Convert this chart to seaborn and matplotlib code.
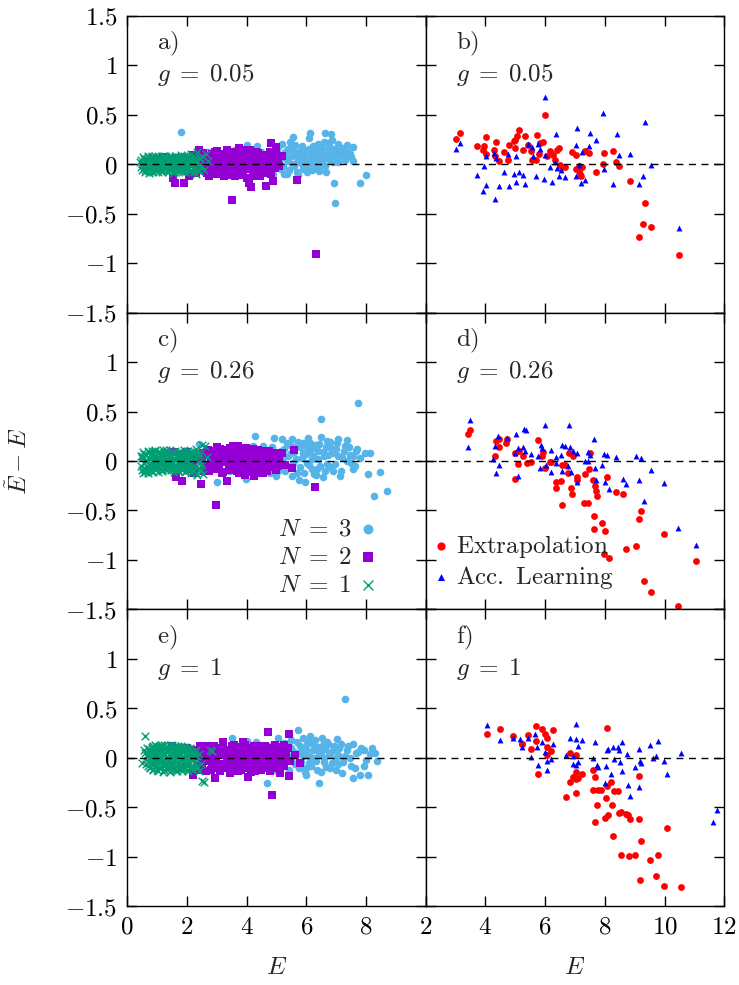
import matplotlib
matplotlib.use('Agg')
import matplotlib.pyplot as plt
import seaborn as sns

sns.set_style('ticks', {'axes.edgecolor': 'black', 'xtick.color': 'black', 'ytick.color': 'black',
                        'xtick.direction': 'in', 'ytick.direction': 'in'})
plt.rcParams['font.family'] = ['DejaVu Serif', 'DejaVu Sans']
plt.rcParams['mathtext.fontset'] = 'cm'
plt.rcParams['axes.linewidth'] = 1.0

# ---- left column: N = 1, 2, 3 (E, E~ - E) ----
a_n1 = [(0.42, 0.02), (0.48, -0.03), (0.55, 0.05), (0.6, -0.06), (0.65, 0.01), (0.7, 0.07), (0.72, -0.09), (0.78, 0.03),
        (0.82, -0.04), (0.85, 0.08), (0.9, -0.01), (0.95, 0.05), (0.98, -0.07), (1.02, 0.02), (1.06, -0.03), (1.1, 0.06),
        (1.14, -0.06), (1.18, 0.03), (1.22, -0.01), (1.26, 0.08), (1.3, -0.05), (1.34, 0.04), (1.38, -0.08), (1.42, 0.01),
        (1.46, 0.06), (1.5, -0.03), (1.55, 0.03), (1.6, -0.06), (1.64, 0.07), (1.68, -0.01), (1.72, 0.04), (1.76, -0.05),
        (1.8, 0.02), (1.85, -0.08), (1.9, 0.05), (1.95, -0.02), (2.0, 0.07), (2.05, -0.05), (2.1, 0.01), (2.15, 0.1),
        (2.2, -0.04), (2.25, 0.05), (2.3, -0.1), (2.35, 0.12), (2.42, -0.02), (2.5, 0.08), (2.58, -0.06), (2.65, 0.1),
        (2.72, 0.03), (1.25, 0.0), (0.95, -0.02), (1.55, -0.09), (1.8, 0.09), (1.1, 0.0),
        (0.5, 0.0), (0.55, -0.04), (0.6, 0.03), (0.64, -0.02), (0.68, 0.05), (0.74, -0.05), (0.76, 0.0), (0.8, 0.06),
        (0.84, -0.02), (0.88, 0.03), (0.92, -0.05), (0.96, 0.01), (1.0, 0.06), (1.04, -0.05), (1.08, 0.03), (1.12, -0.02),
        (1.16, 0.05), (1.2, -0.06), (1.24, 0.02), (1.28, -0.03), (1.32, 0.06), (1.36, 0.0), (1.4, -0.05), (1.44, 0.04),
        (1.48, -0.01), (1.52, 0.07), (1.56, -0.05), (1.6, 0.02), (1.66, -0.03), (1.7, 0.05), (1.74, 0.0), (1.78, -0.06),
        (1.82, 0.05), (1.88, 0.0), (1.92, -0.05), (1.98, 0.03), (2.02, -0.02), (2.08, 0.05), (2.12, -0.07), (2.18, 0.02),
        (2.22, 0.08), (2.28, -0.02), (2.32, 0.04), (2.38, -0.06), (2.45, 0.05), (0.7, 0.02), (1.0, -0.03), (1.3, 0.02),
        (1.6, -0.02), (1.9, 0.02)]
a_n1_core = [(0.45, 0.04), (0.5, -0.06), (0.53, 0.07), (0.57, 0.0), (0.6, -0.08), (0.63, 0.05), (0.67, -0.03), (0.7, 0.08),
             (0.73, -0.07), (0.77, 0.01), (0.8, -0.05), (0.83, 0.07), (0.87, -0.08), (0.9, 0.03), (0.93, 0.08), (0.97, -0.04),
             (1.0, 0.0), (1.03, -0.08), (1.07, 0.07), (1.1, -0.02), (1.13, 0.04), (1.17, -0.08), (1.2, 0.08), (1.23, -0.04),
             (1.27, 0.02), (1.3, 0.07), (1.33, -0.07), (1.37, 0.04), (1.4, -0.02), (1.43, 0.08), (1.47, -0.06), (1.5, 0.0),
             (1.53, 0.05), (1.57, -0.08), (1.6, 0.08), (1.63, -0.03), (1.67, 0.03), (1.7, -0.07), (1.73, 0.07), (1.77, 0.0),
             (1.8, -0.06), (1.83, 0.06), (1.87, -0.02), (1.9, 0.08), (1.93, -0.08), (1.97, 0.02), (2.0, -0.04), (2.03, 0.08),
             (2.07, -0.07), (2.1, 0.04), (2.13, -0.02), (2.17, 0.07), (2.2, -0.08), (2.23, 0.02), (2.27, 0.06), (2.3, -0.05),
             (2.35, 0.03), (2.4, -0.07), (2.45, 0.06), (2.5, -0.02)]
a_n2 = [(1.05, 0.05), (1.2, 0.07), (1.4, 0.03), (1.55, -0.14), (1.6, -0.19), (1.7, 0.06), (1.85, -0.06), (1.89, -0.19),
        (2.0, 0.05), (2.08, -0.12), (2.2, 0.09), (2.3, -0.09), (2.4, 0.14), (2.45, 0.02), (2.55, 0.11), (2.6, -0.07),
        (2.7, 0.04), (2.75, -0.12), (2.8, 0.08), (2.9, -0.03), (2.95, 0.12), (3.0, -0.1), (3.05, 0.05), (3.1, 0.0),
        (3.15, -0.06), (3.2, 0.1), (3.25, -0.12), (3.3, 0.03), (3.35, 0.14), (3.4, -0.04), (3.45, 0.07), (3.5, -0.36),
        (3.5, -0.09), (3.55, 0.12), (3.6, 0.0), (3.65, -0.07), (3.7, 0.09), (3.75, 0.16), (3.8, -0.11), (3.85, 0.04),
        (3.9, -0.02), (3.95, 0.1), (4.0, -0.14), (4.02, 0.06), (4.07, -0.19), (4.1, 0.14), (4.14, -0.23), (4.2, 0.01),
        (4.25, -0.08), (4.3, 0.08), (4.35, -0.03), (4.4, 0.11), (4.45, -0.12), (4.5, 0.05), (4.55, -0.05), (4.6, 0.02),
        (4.64, -0.22), (4.7, 0.09), (4.75, -0.06), (4.83, 0.21), (4.85, 0.07), (4.9, -0.17), (4.98, 0.17), (5.05, 0.04),
        (5.1, -0.02), (5.2, 0.08), (5.68, -0.16), (6.33, -0.91), (2.4, -0.05), (3.2, 0.02), (3.9, 0.05), (4.3, -0.1),
        (2.25, 0.03), (2.35, -0.06), (2.45, 0.08), (2.55, -0.02), (2.62, 0.05), (2.68, -0.09), (2.78, 0.0), (2.85, 0.1),
        (2.88, -0.06), (2.98, 0.04), (3.02, 0.13), (3.08, -0.04), (3.12, 0.07), (3.18, -0.09), (3.22, 0.04), (3.28, -0.02),
        (3.32, 0.09), (3.38, -0.11), (3.42, 0.02), (3.48, 0.11), (3.52, -0.05), (3.58, 0.06), (3.62, -0.12), (3.68, 0.03),
        (3.72, -0.03), (3.78, 0.12), (3.82, 0.0), (3.88, -0.08), (3.92, 0.14), (3.98, 0.02), (4.04, -0.05), (4.08, 0.09),
        (4.12, -0.02), (4.18, 0.07), (4.22, -0.12), (4.28, 0.03), (4.32, 0.12), (4.38, -0.06), (4.42, 0.05), (4.48, -0.02),
        (4.52, 0.09), (4.58, -0.09), (4.62, 0.06), (4.68, -0.03), (4.72, 0.02), (4.78, 0.12), (4.82, -0.1), (4.88, 0.03),
        (4.95, -0.04), (5.0, 0.1), (1.3, 0.0), (1.5, 0.05), (1.75, -0.04), (1.95, 0.02), (2.1, 0.0)]
a_n3 = [(1.8, 0.33), (2.0, 0.08), (2.3, 0.05), (2.6, -0.02), (2.9, 0.11), (3.2, 0.07), (3.3, -0.05), (3.6, 0.14),
        (3.8, 0.12), (4.0, 0.19), (4.1, 0.08), (4.2, -0.08), (4.35, 0.18), (4.5, 0.12), (4.7, 0.05), (4.8, -0.06),
        (4.95, 0.1), (5.0, 0.0), (5.05, 0.17), (5.15, -0.05), (5.2, 0.07), (5.3, 0.12), (5.35, -0.1), (5.4, 0.03),
        (5.5, 0.15), (5.55, 0.27), (5.6, -0.02), (5.65, 0.08), (5.7, -0.08), (5.75, 0.12), (5.8, 0.02), (5.85, 0.18),
        (5.9, -0.05), (5.95, 0.07), (6.0, 0.13), (6.05, -0.01), (6.1, 0.26), (6.13, 0.32), (6.15, 0.05), (6.2, -0.06),
        (6.25, 0.11), (6.3, 0.16), (6.35, 0.02), (6.4, 0.2), (6.45, -0.03), (6.5, 0.09), (6.55, 0.14), (6.6, 0.22),
        (6.64, 0.31), (6.67, -0.08), (6.7, 0.06), (6.75, 0.18), (6.8, 0.1), (6.82, 0.3), (6.85, 0.24), (6.9, 0.02),
        (6.94, -0.19), (6.97, -0.39), (7.0, 0.14), (7.05, 0.2), (7.1, 0.08), (7.2, 0.16), (7.3, 0.04), (7.4, 0.12),
        (7.46, 0.1), (7.55, 0.03), (7.57, 0.17), (7.8, -0.19), (8.0, -0.11), (5.25, -0.1), (4.6, 0.0), (5.45, 0.22),
        (4.85, 0.05), (4.9, -0.1), (5.02, 0.12), (5.1, 0.04), (5.18, 0.2), (5.22, -0.02), (5.28, 0.06), (5.38, 0.15),
        (5.42, -0.06), (5.48, 0.08), (5.52, 0.0), (5.58, 0.12), (5.62, 0.19), (5.68, 0.02), (5.72, -0.11), (5.78, 0.07),
        (5.82, 0.14), (5.88, -0.02), (5.92, 0.1), (5.98, 0.04), (6.02, -0.08), (6.08, 0.15), (6.12, 0.0), (6.18, 0.09),
        (6.22, 0.18), (6.28, -0.03), (6.32, 0.06), (6.38, 0.12), (6.42, -0.07), (6.48, 0.17), (6.52, 0.03), (6.58, 0.1),
        (6.62, -0.02), (6.68, 0.13), (6.72, 0.21), (6.78, 0.04), (6.88, 0.15), (6.92, 0.08), (7.08, 0.02), (7.15, 0.13),
        (7.25, 0.1), (7.35, 0.19), (7.5, 0.07), (4.3, 0.1), (4.45, -0.02), (3.9, 0.05), (3.4, 0.1), (2.7, 0.12)]

c_n1 = [(0.45, -0.05), (0.5, 0.03), (0.52, -0.12), (0.58, 0.07), (0.62, -0.08), (0.68, 0.01), (0.72, 0.09), (0.76, -0.04),
        (0.8, 0.05), (0.85, -0.1), (0.9, 0.02), (0.94, 0.1), (0.98, -0.06), (1.02, 0.04), (1.07, -0.02), (1.12, 0.08),
        (1.16, -0.09), (1.2, 0.03), (1.25, -0.04), (1.3, 0.11), (1.34, 0.0), (1.38, -0.07), (1.42, 0.06), (1.47, -0.03),
        (1.52, 0.09), (1.57, -0.08), (1.6, 0.02), (1.65, -0.05), (1.7, 0.07), (1.75, -0.02), (1.8, 0.04), (1.85, -0.09),
        (1.9, 0.06), (1.95, -0.04), (2.0, 0.1), (2.05, -0.07), (2.1, 0.03), (2.15, -0.12), (2.2, 0.07), (2.25, -0.1),
        (2.3, 0.12), (2.35, -0.14), (2.4, 0.05), (2.45, -0.08), (2.5, 0.16), (2.55, -0.13), (2.61, 0.15), (2.66, 0.04),
        (1.0, 0.0), (1.4, 0.01), (1.7, -0.01), (0.7, -0.12),
        (0.5, 0.05), (0.55, -0.08), (0.6, 0.0), (0.64, 0.06), (0.68, -0.06), (0.74, 0.03), (0.78, -0.09), (0.82, 0.08),
        (0.86, 0.0), (0.9, -0.06), (0.94, 0.05), (0.98, -0.02), (1.02, 0.09), (1.06, -0.07), (1.1, 0.02), (1.14, 0.07),
        (1.18, -0.04), (1.22, 0.05), (1.26, -0.08), (1.3, 0.01), (1.34, 0.08), (1.38, -0.03), (1.42, 0.0), (1.46, -0.09),
        (1.5, 0.05), (1.54, -0.02), (1.58, 0.08), (1.62, -0.06), (1.66, 0.04), (1.7, -0.09), (1.74, 0.09), (1.78, -0.04),
        (1.82, 0.02), (1.86, 0.08), (1.9, -0.07), (1.94, 0.01), (1.98, -0.1), (2.02, 0.05), (2.08, -0.03), (2.12, 0.09),
        (2.18, -0.06), (2.24, 0.02), (2.3, -0.12), (2.36, 0.08), (2.42, -0.02), (2.48, -0.1), (0.8, -0.02), (1.2, 0.0),
        (1.55, 0.02), (1.85, 0.0)]
c_n1_core = [(0.45, 0.05), (0.5, -0.09), (0.53, 0.09), (0.57, -0.02), (0.6, -0.11), (0.63, 0.06), (0.67, -0.05), (0.7, 0.1),
             (0.73, -0.09), (0.77, 0.02), (0.8, -0.06), (0.83, 0.1), (0.87, -0.11), (0.9, 0.04), (0.93, 0.11), (0.97, -0.05),
             (1.0, 0.0), (1.03, -0.11), (1.07, 0.09), (1.1, -0.03), (1.13, 0.05), (1.17, -0.1), (1.2, 0.11), (1.23, -0.06),
             (1.27, 0.03), (1.3, 0.09), (1.33, -0.09), (1.37, 0.05), (1.4, -0.02), (1.43, 0.11), (1.47, -0.08), (1.5, 0.0),
             (1.53, 0.07), (1.57, -0.11), (1.6, 0.1), (1.63, -0.04), (1.67, 0.04), (1.7, -0.1), (1.73, 0.09), (1.77, 0.0),
             (1.8, -0.08), (1.83, 0.08), (1.87, -0.03), (1.9, 0.11), (1.93, -0.11), (1.97, 0.02), (2.0, -0.05), (2.03, 0.1),
             (2.07, -0.09), (2.1, 0.05), (2.13, -0.02), (2.17, 0.09), (2.2, -0.1), (2.23, 0.02), (2.27, 0.08), (2.3, -0.06),
             (2.35, 0.04), (2.4, -0.09), (2.45, 0.07), (2.5, -0.03)]
c_n2 = [(1.57, 0.09), (1.64, -0.16), (1.75, 0.04), (1.83, -0.2), (1.97, 0.09), (2.05, -0.08), (2.15, 0.05), (2.25, -0.12),
        (2.35, 0.02), (2.47, -0.23), (2.55, 0.08), (2.6, -0.05), (2.7, 0.11), (2.75, -0.1), (2.8, 0.03), (2.9, -0.02),
        (2.97, -0.44), (3.0, 0.09), (3.05, -0.08), (3.1, 0.12), (3.15, 0.0), (3.2, -0.11), (3.25, 0.06), (3.33, -0.2),
        (3.35, 0.1), (3.4, -0.04), (3.45, 0.13), (3.5, 0.02), (3.56, 0.15), (3.6, -0.08), (3.65, 0.07), (3.72, 0.15),
        (3.75, -0.12), (3.8, 0.04), (3.85, -0.02), (3.9, 0.1), (3.95, -0.14), (4.0, 0.06), (4.05, -0.06), (4.1, 0.12),
        (4.15, -0.1), (4.2, 0.02), (4.25, -0.15), (4.3, 0.08), (4.35, -0.03), (4.4, 0.11), (4.45, -0.08), (4.5, 0.04),
        (4.55, -0.12), (4.6, 0.07), (4.65, -0.02), (4.75, 0.1), (4.8, -0.06), (4.9, 0.05), (5.0, -0.09), (5.1, 0.03),
        (5.2, 0.08), (5.3, -0.04), (5.51, -0.07), (5.6, 0.11), (6.29, -0.26), (2.4, 0.06), (3.0, -0.03), (3.6, 0.01),
        (4.2, -0.05), (3.3, 0.04),
        (2.5, 0.02), (2.58, -0.1), (2.65, 0.06), (2.72, -0.04), (2.82, 0.1), (2.88, -0.08), (2.95, 0.01), (3.02, 0.14),
        (3.08, -0.05), (3.12, 0.05), (3.18, -0.12), (3.22, 0.11), (3.28, -0.01), (3.38, 0.07), (3.42, -0.09), (3.48, 0.04),
        (3.52, 0.13), (3.58, -0.03), (3.62, 0.09), (3.68, -0.1), (3.7, 0.01), (3.78, 0.12), (3.82, -0.06), (3.88, 0.06),
        (3.92, -0.02), (3.98, 0.13), (4.02, -0.11), (4.08, 0.03), (4.12, 0.09), (4.18, -0.05), (4.22, 0.12), (4.28, -0.09),
        (4.32, 0.02), (4.38, 0.07), (4.42, -0.12), (4.48, 0.0), (4.52, 0.1), (4.58, -0.06), (4.62, 0.03), (4.7, -0.1),
        (4.78, 0.05), (4.85, -0.02), (4.95, 0.08), (5.05, -0.05), (2.0, 0.0), (2.2, -0.04), (1.8, 0.05)]
c_n3 = [(2.42, 0.17), (2.6, -0.03), (2.8, 0.05), (3.0, -0.21), (3.2, 0.08), (3.4, -0.1), (3.6, 0.12), (3.75, 0.02),
        (3.98, -0.18), (4.1, 0.1), (4.28, 0.25), (4.4, -0.07), (4.55, 0.15), (4.7, 0.04), (4.8, -0.12), (4.92, 0.23),
        (5.0, 0.08), (5.1, -0.05), (5.2, 0.22), (5.25, 0.12), (5.3, -0.1), (5.4, 0.05), (5.45, 0.16), (5.51, 0.22),
        (5.55, -0.02), (5.6, 0.09), (5.7, -0.12), (5.75, -0.19), (5.8, 0.14), (5.85, 0.03), (5.9, 0.18), (5.95, -0.21),
        (6.0, 0.07), (6.06, 0.23), (6.1, -0.04), (6.15, 0.12), (6.2, 0.02), (6.3, 0.16), (6.35, -0.08), (6.4, 0.1),
        (6.49, 0.42), (6.51, 0.24), (6.57, -0.16), (6.6, 0.05), (6.65, 0.14), (6.7, -0.03), (6.8, 0.19), (6.85, 0.08),
        (6.9, -0.1), (7.0, 0.12), (7.07, 0.22), (7.12, -0.15), (7.2, 0.04), (7.3, 0.15), (7.35, 0.21), (7.45, 0.06),
        (7.57, -0.08), (7.65, 0.1), (7.75, 0.59), (7.8, 0.03), (7.98, 0.08), (8.07, -0.13), (8.15, 0.08), (8.26, -0.35),
        (8.46, -0.11), (8.72, -0.3), (5.0, -0.15), (6.25, -0.13), (4.5, 0.0), (7.5, -0.02),
        (4.6, 0.1), (4.75, -0.04), (4.85, 0.14), (4.98, 0.0), (5.05, -0.1), (5.15, 0.1), (5.22, 0.03), (5.35, 0.18),
        (5.38, -0.05), (5.48, 0.08), (5.52, -0.15), (5.58, 0.14), (5.65, 0.02), (5.72, 0.19), (5.78, -0.06), (5.88, 0.08),
        (5.92, -0.12), (5.98, 0.15), (6.03, -0.02), (6.08, 0.1), (6.12, 0.18), (6.18, -0.08), (6.22, 0.05), (6.28, 0.13),
        (6.32, -0.14), (6.38, 0.02), (6.42, 0.17), (6.46, -0.05), (6.55, 0.09), (6.62, -0.1), (6.68, 0.2), (6.72, 0.06),
        (6.78, -0.06), (6.82, 0.13), (6.95, -0.03), (7.02, 0.18), (7.08, 0.05), (7.18, -0.1), (7.25, 0.1), (7.38, 0.0),
        (7.42, 0.14), (7.55, 0.05), (7.62, -0.05), (7.7, 0.12), (3.5, 0.05), (3.9, -0.08), (4.2, 0.15)]

e_n1 = [(0.5, -0.05), (0.56, 0.08), (0.61, 0.22), (0.65, 0.02), (0.7, -0.08), (0.74, 0.06), (0.78, -0.02), (0.82, 0.1),
        (0.86, -0.11), (0.9, 0.03), (0.94, -0.05), (0.98, 0.12), (1.02, 0.0), (1.06, -0.09), (1.1, 0.07), (1.14, -0.03),
        (1.18, 0.11), (1.22, -0.12), (1.26, 0.04), (1.3, -0.06), (1.34, 0.09), (1.38, -0.01), (1.42, 0.13), (1.46, -0.1),
        (1.5, 0.05), (1.55, -0.04), (1.6, 0.1), (1.64, -0.12), (1.68, 0.02), (1.72, 0.08), (1.76, -0.07), (1.8, 0.04),
        (1.85, -0.1), (1.9, 0.09), (1.95, -0.02), (2.0, 0.06), (2.05, -0.08), (2.1, 0.03), (2.15, -0.11), (2.2, 0.05),
        (2.28, -0.06), (2.35, 0.02), (2.42, -0.13), (2.51, -0.23), (2.56, -0.24), (2.79, 0.08), (2.84, 0.07), (1.0, 0.04),
        (1.3, 0.0), (1.6, -0.02), (0.8, 0.0), (1.15, 0.13),
        (0.6, 0.05), (0.64, -0.06), (0.68, 0.1), (0.72, 0.0), (0.76, -0.1), (0.8, 0.07), (0.84, -0.04), (0.88, 0.12),
        (0.92, -0.08), (0.96, 0.04), (1.0, -0.12), (1.04, 0.09), (1.08, -0.02), (1.12, 0.13), (1.16, -0.07), (1.2, 0.05),
        (1.24, -0.12), (1.28, 0.1), (1.32, -0.04), (1.36, 0.06), (1.4, -0.1), (1.44, 0.02), (1.48, 0.12), (1.52, -0.07),
        (1.56, 0.07), (1.6, -0.12), (1.64, 0.05), (1.68, -0.04), (1.72, 0.12), (1.76, -0.1), (1.8, 0.08), (1.84, -0.02),
        (1.88, 0.11), (1.92, -0.09), (1.96, 0.04), (2.0, -0.12), (2.04, 0.09), (2.08, -0.04), (2.12, 0.07), (2.18, -0.09),
        (2.22, 0.0), (2.28, 0.06), (2.34, -0.1), (2.4, 0.04), (2.46, -0.06), (0.9, 0.0), (1.2, -0.03), (1.5, 0.0),
        (1.75, 0.02), (2.0, 0.0)]
e_n1_core = [(0.7, 0.04), (0.72, -0.04), (0.75, 0.09), (0.78, -0.09), (0.8, 0.02), (0.83, 0.11), (0.85, -0.06), (0.88, -0.12),
             (0.9, 0.07), (0.93, -0.02), (0.95, 0.13), (0.98, -0.08), (1.0, 0.02), (1.03, -0.13), (1.05, 0.06), (1.08, 0.12),
             (1.1, -0.05), (1.13, 0.0), (1.15, -0.1), (1.18, 0.08), (1.2, -0.14), (1.23, 0.03), (1.25, 0.13), (1.28, -0.07),
             (1.3, 0.07), (1.33, -0.11), (1.35, 0.01), (1.38, 0.12), (1.4, -0.04), (1.43, -0.14), (1.45, 0.09), (1.48, -0.06),
             (1.5, 0.13), (1.53, 0.0), (1.55, -0.11), (1.58, 0.06), (1.6, 0.12), (1.63, -0.08), (1.65, 0.0), (1.68, -0.13),
             (1.7, 0.1), (1.73, -0.05), (1.75, 0.05), (1.78, -0.1), (1.8, 0.12), (1.83, 0.0), (1.85, -0.13), (1.88, 0.06),
             (1.9, -0.06), (1.93, 0.11), (1.95, -0.1), (1.98, 0.02), (2.0, 0.1), (2.03, -0.06), (2.05, -0.13), (2.08, 0.05),
             (2.1, 0.1), (2.13, -0.09), (2.15, 0.0), (2.18, 0.07), (2.2, -0.12), (2.23, 0.03), (2.26, -0.04), (2.3, 0.08),
             (2.33, -0.08)]
e_n2 = [(2.2, -0.17), (2.3, 0.05), (2.4, -0.08), (2.5, 0.1), (2.6, -0.03), (2.7, 0.07), (2.8, -0.12), (2.9, 0.02),
        (2.95, -0.2), (3.0, 0.1), (3.1, -0.06), (3.2, 0.16), (3.25, 0.04), (3.3, -0.1), (3.4, 0.08), (3.45, -0.15),
        (3.5, 0.0), (3.6, 0.11), (3.65, -0.08), (3.7, 0.05), (3.8, -0.12), (3.87, 0.16), (3.9, 0.03), (3.95, -0.05),
        (4.04, -0.19), (4.1, 0.09), (4.2, -0.02), (4.25, 0.12), (4.3, -0.09), (4.4, 0.06), (4.45, -0.04), (4.5, 0.1),
        (4.6, -0.1), (4.65, 0.03), (4.72, 0.26), (4.79, -0.13), (4.85, -0.38), (4.9, 0.07), (4.96, 0.13), (5.0, -0.06),
        (5.05, 0.02), (5.13, -0.15), (5.2, 0.08), (5.26, 0.13), (5.3, -0.03), (5.41, -0.18), (5.42, 0.24), (5.63, 0.03),
        (5.8, -0.05), (2.5, -0.12), (3.0, -0.1), (3.5, 0.12), (4.0, 0.07), (4.5, -0.12), (2.65, 0.12), (3.35, -0.02),
        (4.15, -0.14), (4.75, 0.0),
        (2.25, 0.08), (2.32, -0.12), (2.38, 0.02), (2.45, 0.12), (2.52, -0.05), (2.58, 0.05), (2.65, -0.13), (2.72, 0.1),
        (2.78, 0.0), (2.85, -0.08), (2.92, 0.12), (2.98, -0.02), (3.05, 0.06), (3.12, -0.13), (3.18, 0.03), (3.22, 0.12),
        (3.28, -0.06), (3.35, 0.08), (3.42, -0.1), (3.48, 0.04), (3.55, -0.03), (3.58, 0.13), (3.65, 0.0), (3.72, -0.13),
        (3.78, 0.09), (3.82, -0.05), (3.88, 0.05), (3.95, 0.13), (4.0, -0.1), (4.05, 0.0), (4.12, 0.1), (4.18, -0.07),
        (4.22, 0.04), (4.28, -0.13), (4.35, 0.12), (4.38, -0.02), (4.42, 0.08), (4.48, -0.08), (4.55, 0.03), (4.62, 0.12),
        (4.68, -0.05), (4.72, 0.06), (4.78, -0.1), (4.85, 0.1), (4.92, -0.02), (4.98, 0.06), (5.05, -0.1), (5.1, 0.11),
        (5.18, 0.0), (5.25, -0.08), (5.32, 0.05), (5.38, 0.1), (5.45, -0.03), (2.0, 0.1), (1.8, -0.1), (1.5, 0.12)]
e_n3 = [(2.73, 0.13), (3.0, -0.05), (3.3, 0.06), (3.51, 0.2), (3.7, -0.08), (3.9, 0.1), (4.1, 0.02), (4.33, 0.16),
        (4.5, -0.06), (4.68, -0.25), (4.8, 0.12), (4.95, 0.04), (5.07, 0.2), (5.2, -0.08), (5.3, 0.09), (5.4, 0.14),
        (5.5, -0.02), (5.6, 0.06), (5.72, 0.28), (5.75, -0.1), (5.8, 0.12), (5.9, 0.02), (5.95, -0.14), (6.0, 0.08),
        (6.05, 0.18), (6.1, -0.05), (6.19, 0.15), (6.25, 0.0), (6.3, 0.1), (6.35, -0.12), (6.44, -0.25), (6.5, 0.06),
        (6.55, 0.13), (6.6, -0.04), (6.69, 0.16), (6.75, 0.03), (6.8, -0.1), (6.9, 0.08), (7.02, 0.19), (7.05, -0.06),
        (7.1, 0.1), (7.2, -0.15), (7.29, 0.59), (7.3, 0.02), (7.4, 0.12), (7.5, -0.08), (7.58, -0.2), (7.65, 0.05),
        (7.8, -0.17), (7.85, 0.1), (7.92, 0.08), (8.0, -0.02), (8.08, -0.17), (8.2, 0.1), (8.3, 0.05), (8.36, -0.03),
        (5.0, -0.12), (6.0, -0.17), (7.0, 0.0), (5.5, 0.18),
        (5.05, 0.08), (5.15, -0.05), (5.25, 0.15), (5.35, 0.0), (5.42, -0.12), (5.5, 0.1), (5.55, 0.03), (5.62, -0.06),
        (5.68, 0.16), (5.75, 0.05), (5.82, -0.04), (5.88, 0.2), (5.92, 0.09), (5.98, -0.1), (6.02, 0.14), (6.08, 0.02),
        (6.12, 0.22), (6.15, -0.08), (6.22, 0.08), (6.28, 0.18), (6.32, -0.03), (6.38, 0.11), (6.42, 0.04), (6.48, -0.14),
        (6.52, 0.2), (6.58, 0.0), (6.62, 0.09), (6.66, -0.09), (6.72, 0.14), (6.78, 0.05), (6.85, -0.05), (6.92, 0.12),
        (6.98, -0.12), (7.08, 0.03), (7.15, 0.14), (7.22, -0.04), (7.35, 0.08), (7.45, 0.0), (7.55, 0.14), (7.62, -0.1),
        (7.72, 0.06), (7.95, -0.08), (8.12, 0.04), (4.4, 0.12), (4.6, 0.05), (4.0, 0.17)]

# ---- right column: Extrapolation vs Acc. Learning ----
b_ext = [(3.03, 0.25), (3.14, 0.32), (3.72, 0.18), (3.96, 0.18), (4.01, 0.27), (3.92, 0.14), (4.03, 0.1), (4.29, 0.14),
         (4.37, 0.22), (4.31, 0.08), (4.45, 0.03), (4.61, 0.12), (4.76, 0.04), (4.78, 0.19), (4.96, 0.23), (5.0, 0.16),
         (5.05, 0.28), (5.12, 0.35), (5.0, 0.24), (5.26, 0.14), (5.33, 0.28), (5.43, 0.19), (5.54, 0.13), (5.56, 0.04),
         (5.7, 0.04), (5.72, 0.29), (5.79, 0.1), (5.82, 0.21), (5.94, 0.22), (5.99, 0.5), (6.06, 0.08), (6.18, 0.13),
         (6.25, 0.09), (6.32, 0.04), (6.39, 0.14), (6.45, 0.16), (6.49, -0.01), (6.58, -0.03), (6.68, -0.03), (6.9, 0.12),
         (7.02, -0.05), (7.05, 0.09), (7.12, -0.02), (7.13, -0.07), (7.2, -0.12), (7.17, -0.1), (7.25, -0.03), (7.33, 0.13),
         (7.47, 0.11), (7.69, -0.08), (7.94, 0.0), (7.97, 0.11), (8.26, 0.13), (8.38, 0.02), (8.47, -0.02), (8.84, -0.17),
         (9.33, -0.39), (9.27, -0.6), (9.55, -0.64), (9.14, -0.74), (10.49, -0.92)]
b_acc = [(3.03, 0.15), (3.14, 0.21), (3.72, -0.11), (3.92, -0.27), (4.01, -0.21), (3.96, -0.02), (4.01, 0.08), (4.29, 0.11),
         (4.31, -0.35), (4.37, 0.06), (4.44, -0.22), (4.61, -0.08), (4.76, 0.1), (4.78, -0.22), (4.96, -0.1), (5.04, -0.18),
         (5.04, 0.08), (5.13, -0.08), (5.26, -0.11), (5.34, -0.2), (5.43, 0.2), (5.56, 0.17), (5.6, 0.08), (5.7, -0.12),
         (5.77, 0.2), (5.82, 0.15), (6.01, 0.68), (5.95, -0.15), (6.01, 0.09), (6.17, -0.03), (6.22, -0.18), (6.32, 0.02),
         (6.37, 0.3), (6.41, -0.04), (6.45, -0.12), (6.53, -0.06), (6.68, -0.13), (7.02, 0.19), (7.07, 0.37), (7.05, -0.12),
         (7.13, -0.01), (7.21, -0.19), (7.24, 0.12), (7.33, -0.16), (7.46, 0.18), (7.49, 0.31), (7.69, 0.24), (7.94, 0.52),
         (7.98, -0.05), (8.26, -0.2), (8.4, 0.3), (8.47, 0.09), (8.85, 0.1), (9.14, -0.2), (9.29, -0.12), (9.34, 0.43),
         (9.55, -0.01), (10.49, -0.65)]

d_ext = [(3.42, 0.27), (3.47, 0.31), (4.33, 0.05), (4.35, 0.2), (4.45, 0.14), (4.45, 0.22), (4.7, 0.18), (4.74, 0.22),
         (4.98, -0.18), (5.0, 0.08), (5.1, -0.03), (5.14, 0.1), (5.27, 0.05), (5.39, -0.02), (5.54, -0.01), (5.77, 0.21),
         (5.88, 0.05), (5.93, 0.09), (6.01, -0.07), (6.18, -0.01), (6.2, -0.01), (6.35, -0.21), (6.38, -0.27), (6.54, -0.2),
         (6.58, -0.04), (6.55, -0.44), (6.66, -0.04), (6.77, -0.12), (6.81, 0.08), (6.88, -0.27), (6.9, -0.33), (6.95, 0.05),
         (7.06, -0.19), (7.08, -0.16), (7.31, -0.42), (7.44, -0.42), (7.33, -0.13), (7.47, -0.08), (7.52, 0.08), (7.59, -0.19),
         (7.65, -0.56), (7.65, -0.69), (7.68, -0.25), (7.7, -0.3), (7.73, -0.35), (7.91, -0.63), (7.97, -0.94), (8.0, -0.71),
         (8.09, -0.16), (8.13, -0.98), (8.38, -0.31), (8.61, -0.33), (8.71, -0.89), (9.03, -0.86), (9.15, -0.59), (9.2, -0.51),
         (9.32, -1.21), (9.56, -1.32), (9.97, -0.74), (10.46, -1.47), (11.04, -1.01)]
d_acc = [(3.42, 0.14), (3.5, 0.41), (4.26, 0.02), (4.33, 0.15), (4.37, -0.12), (4.42, 0.25), (4.46, -0.04), (4.74, 0.23),
         (5.0, 0.08), (5.04, 0.27), (5.08, -0.15), (5.1, 0.13), (5.27, 0.14), (5.3, 0.32), (5.34, 0.1), (5.37, 0.31),
         (5.54, 0.07), (5.77, 0.05), (5.83, -0.07), (5.85, 0.16), (5.9, 0.13), (6.01, 0.36), (6.04, -0.04), (6.19, -0.11),
         (6.2, 0.11), (6.35, 0.04), (6.38, -0.02), (6.54, 0.06), (6.55, -0.1), (6.57, 0.16), (6.68, 0.15), (6.77, -0.05),
         (6.81, 0.36), (6.85, 0.14), (6.88, -0.11), (6.92, 0.1), (7.08, 0.08), (7.08, -0.21), (7.33, 0.0), (7.44, 0.09),
         (7.44, 0.0), (7.52, 0.06), (7.65, 0.22), (7.67, -0.07), (7.7, -0.19), (7.91, -0.04), (7.98, 0.07), (8.0, -0.21),
         (8.07, 0.06), (8.13, -0.28), (8.38, 0.04), (8.6, -0.18), (8.71, -0.23), (9.03, 0.05), (9.15, -0.19), (9.2, 0.03),
         (9.32, -0.4), (9.56, -0.09), (9.97, -0.22), (10.46, -0.68), (11.04, -0.85)]

f_ext = [(4.06, 0.24), (4.48, 0.29), (4.92, 0.22), (5.21, 0.14), (5.23, 0.14), (5.44, 0.23), (5.52, 0.09), (5.7, 0.17),
         (5.69, 0.32), (5.77, -0.16), (5.88, 0.29), (6.01, 0.24), (6.07, 0.2), (6.07, 0.11), (6.06, 0.03), (6.2, 0.07),
         (6.28, 0.28), (6.69, -0.4), (6.83, 0.05), (6.84, -0.24), (6.93, -0.19), (7.03, 0.03), (7.03, -0.36), (7.05, -0.14),
         (7.05, -0.21), (7.11, -0.2), (7.25, -0.16), (7.59, -0.33), (7.62, -0.12), (7.68, -0.19), (7.68, -0.65), (7.73, -0.48),
         (7.77, -0.33), (7.86, -0.33), (8.0, -0.61), (8.05, -0.41), (8.07, 0.3), (8.07, -0.29), (8.12, -0.58), (8.2, -0.24),
         (8.24, -0.48), (8.27, -0.79), (8.3, -0.34), (8.43, -0.34), (8.46, -0.56), (8.54, -0.55), (8.55, -0.98), (8.72, -0.57),
         (8.79, -0.58), (8.82, -0.99), (8.83, -0.62), (9.02, -0.98), (9.14, -0.18), (9.14, -0.62), (9.17, -1.24), (9.21, -0.84),
         (9.5, -1.03), (9.73, -1.19), (9.77, -0.98), (9.97, -1.3), (10.08, -0.71), (10.55, -1.31)]
f_acc = [(4.06, 0.33), (4.48, 0.18), (4.92, 0.2), (5.17, 0.19), (5.23, 0.11), (5.44, 0.2), (5.52, 0.01), (5.66, 0.24),
         (5.72, 0.11), (5.77, -0.07), (5.88, 0.16), (6.01, 0.06), (6.05, -0.12), (6.07, -0.03), (6.2, -0.01), (6.28, 0.14),
         (6.69, 0.03), (6.83, 0.2), (6.92, 0.02), (6.93, -0.06), (7.02, 0.34), (7.03, 0.19), (7.05, -0.07), (7.09, -0.04),
         (7.11, 0.12), (7.25, 0.18), (7.62, 0.0), (7.68, 0.16), (7.73, -0.07), (7.77, -0.09), (8.0, -0.25), (8.05, -0.08),
         (8.07, 0.08), (8.12, 0.09), (8.22, -0.16), (8.27, 0.11), (8.32, -0.01), (8.43, 0.11), (8.46, 0.08), (8.5, -0.04),
         (8.56, -0.13), (8.57, 0.16), (8.73, 0.04), (8.79, -0.27), (8.83, -0.39), (9.02, -0.09), (9.13, -0.3), (9.15, 0.09),
         (9.17, -0.03), (9.21, -0.05), (9.5, 0.13), (9.63, 0.0), (9.73, 0.02), (9.77, 0.17), (9.97, -0.03), (10.08, -0.16),
         (10.55, 0.05), (11.64, -0.65), (11.75, -0.53)]

letters_left = ['a)', 'c)', 'e)']
letters_right = ['b)', 'd)', 'f)']
g_labels = ['0.05', '0.26', '1']
left_sets = [(a_n1 + a_n1_core, a_n2, a_n3), (c_n1 + c_n1_core, c_n2, c_n3), (e_n1 + e_n1_core, e_n2, e_n3)]
right_sets = [(b_ext, b_acc), (d_ext, d_acc), (f_ext, f_acc)]

FS = 18


def xs(pts):
    return [p[0] for p in pts]


def ys(pts):
    return [p[1] for p in pts]


fig, axes = plt.subplots(3, 2, figsize=(7.39, 9.85), dpi=100)
fig.subplots_adjust(left=0.172, right=0.98, top=0.984, bottom=0.08, hspace=0, wspace=0)

yt = [-1.5, -1, -0.5, 0, 0.5, 1, 1.5]
yt_lab = [r'$-1.5$', r'$-1$', r'$-0.5$', r'$0$', r'$0.5$', r'$1$', r'$1.5$']

for i in range(3):
    n1, n2, n3 = left_sets[i]
    ax = axes[i, 0]
    sns.scatterplot(x=xs(n3), y=ys(n3), ax=ax, color='#56b4e9', marker='o', s=30, linewidth=0, label=r'$N\;=\;3$')
    sns.scatterplot(x=xs(n2), y=ys(n2), ax=ax, color='#9400d3', marker='s', s=32, linewidth=0, label=r'$N\;=\;2$')
    sns.scatterplot(x=xs(n1), y=ys(n1), ax=ax, color='#009e73', marker='x', s=30, linewidth=1.0, label=r'$N\;=\;1$')
    ax.set_xlim(0, 10)

    ext, acc = right_sets[i]
    axr = axes[i, 1]
    sns.scatterplot(x=xs(ext), y=ys(ext), ax=axr, color='#ff0000', marker='o', s=24, linewidth=0,
                    label=r'$\mathrm{Extrapolation}$')
    sns.scatterplot(x=xs(acc), y=ys(acc), ax=axr, color='#0000ff', marker='^', s=18, linewidth=0,
                    label=r'$\mathrm{Acc.\ Learning}$')
    axr.set_xlim(2, 12)

    for j, a in enumerate((ax, axr)):
        a.set_ylim(-1.5, 1.5)
        a.axhline(0, color='black', lw=1.0, ls=(0, (5, 4)), zorder=5)
        a.tick_params(direction='in', length=7, width=1, top=True, right=True, labelsize=FS, pad=7)
        a.set_yticks(yt)
        if j == 0:
            labs = list(yt_lab)
            if i > 0:
                labs[-1] = ''
            a.set_yticklabels(labs)
        else:
            a.set_yticklabels([''] * len(yt))
        a.set_xlabel('')
        a.set_ylabel('')
        letter = letters_left[i] if j == 0 else letters_right[i]
        a.text(0.1, 0.905, r'$\mathrm{' + letter + '}$', transform=a.transAxes, fontsize=FS, va='center')
        a.text(0.1, 0.80, r'$g\;=\;' + g_labels[i] + '$', transform=a.transAxes, fontsize=FS, va='center')
        if a.get_legend() is not None:
            a.get_legend().remove()

    ax.set_xticks([0, 2, 4, 6, 8, 10])
    axr.set_xticks([2, 4, 6, 8, 10, 12])
    if i == 2:
        ax.set_xticklabels([r'$0$', r'$2$', r'$4$', r'$6$', r'$8$', ''])
        axr.set_xticklabels([r'$2$', r'$4$', r'$6$', r'$8$', r'$10$', r'$12$'])
        ax.set_xlabel(r'$E$', fontsize=FS, labelpad=12)
        axr.set_xlabel(r'$E$', fontsize=FS, labelpad=12)
    else:
        ax.set_xticklabels([''] * 6)
        axr.set_xticklabels([''] * 6)

# legends in the middle row
axes[1, 0].legend(loc='lower right', markerfirst=False, frameon=False, fontsize=FS, handletextpad=0.15,
                  handlelength=1.0, labelspacing=0.2, borderaxespad=0.1, bbox_to_anchor=(0.89, 0.0), markerscale=1.3)
axes[1, 1].legend(loc='lower left', frameon=False, fontsize=FS, handletextpad=0.1, handlelength=1.0,
                  labelspacing=0.15, borderaxespad=0.0, borderpad=0.1, bbox_to_anchor=(0.0, 0.055), markerscale=1.2)

fig.text(0.026, 0.532, r'$\tilde{E}-E$', rotation=90, fontsize=FS, ha='center', va='center')

plt.savefig('out.png', dpi=100)
